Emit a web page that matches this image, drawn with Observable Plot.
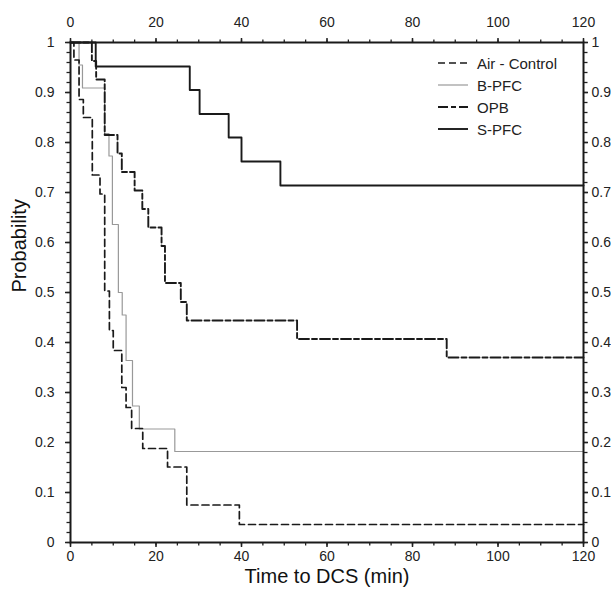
<!DOCTYPE html>
<html>
<head>
<meta charset="utf-8">
<script src="https://cdn.jsdelivr.net/npm/d3@7"></script>
<script src="https://cdn.jsdelivr.net/npm/@observablehq/plot@0.6"></script>
<style>
  html, body { margin: 0; padding: 0; background: #fff; overflow: hidden; }
  #wrap { position: relative; width: 611px; height: 592px; font-family: "Liberation Sans", Arial, sans-serif; }
  #legend { position: absolute; left: 438px; top: 52px; font-size: 15px; color: #222; }
  #legend .row { display: flex; align-items: center; height: 22px; }
  #legend svg { width: 30px; height: 10px; margin-right: 9px; }
</style>
</head>
<body>
<div id="wrap"></div>
<script>
// Kaplan–Meier step data (time in min, survival probability)
const airTimes  = [0, 0.8, 2.0, 3.0, 5.1, 6.9, 8.0, 9.1, 10.0, 12.0, 13.0, 14.3, 16.9, 22.7, 27.2, 39.5, 120];
const airProb   = [1, 0.965, 0.886, 0.85, 0.735, 0.697, 0.503, 0.424, 0.384, 0.31, 0.27, 0.228, 0.188, 0.151, 0.075, 0.036, 0.036];

const bpfcTimes = [0, 2.0, 2.8, 8.0, 9.0, 9.8, 11.2, 12.1, 13.0, 14.5, 16.1, 24.4, 120];
const bpfcProb  = [1, 0.955, 0.909, 0.818, 0.773, 0.636, 0.5, 0.455, 0.364, 0.273, 0.227, 0.182, 0.182];

const opbTimes  = [0, 5.0, 6.0, 8.0, 11.0, 12.0, 15.0, 16.8, 18.2, 21.3, 22.1, 25.8, 27.2, 53.0, 88.0, 120];
const opbProb   = [1, 0.963, 0.926, 0.815, 0.778, 0.741, 0.704, 0.667, 0.630, 0.593, 0.519, 0.481, 0.444, 0.407, 0.370, 0.370];

const spfcTimes = [0, 5.9, 27.9, 30.2, 37.0, 40.0, 49.1, 120];
const spfcProb  = [1, 0.952, 0.905, 0.857, 0.810, 0.762, 0.714, 0.714];

const seriesNames = ["Air - Control", "B-PFC", "OPB", "S-PFC"];
const xMajorTicks = [0, 20, 40, 60, 80, 100, 120];
const yMajorTicks = [0, 0.1, 0.2, 0.3, 0.4, 0.5, 0.6, 0.7, 0.8, 0.9, 1];
const xLabel = "Time to DCS (min)";
const yLabel = "Probability";

const toRows = (ts, ps, name) => ts.map((t, i) => ({t, p: ps[i], name}));
const air  = toRows(airTimes, airProb, seriesNames[0]);
const bpfc = toRows(bpfcTimes, bpfcProb, seriesNames[1]);
const opb  = toRows(opbTimes, opbProb, seriesNames[2]);
const spfc = toRows(spfcTimes, spfcProb, seriesNames[3]);

const styles = {
  "Air - Control": {stroke: "#1a1a1a", strokeWidth: 1.7, strokeDasharray: "7,4"},
  "B-PFC": {stroke: "#999999", strokeWidth: 1.2, strokeDasharray: null},
  "OPB": {stroke: "#1a1a1a", strokeWidth: 1.9, strokeDasharray: "10,3,5,3"},
  "S-PFC": {stroke: "#1a1a1a", strokeWidth: 1.9, strokeDasharray: null}
};

const xMinor = d3.range(0, 121, 5);
const yMinor = d3.range(0, 51).map(i => +(i * 0.02).toFixed(2));
const fmtY = d => String(+d.toFixed(1));
const font = "Liberation Sans, Arial, sans-serif";

function lineMark(rows, name) {
  const s = styles[name];
  const opts = {x: "t", y: "p", curve: "step-after", stroke: s.stroke, strokeWidth: s.strokeWidth};
  if (s.strokeDasharray) opts.strokeDasharray = s.strokeDasharray;
  return Plot.line(rows, opts);
}

const chart = Plot.plot({
  width: 611,
  height: 592,
  marginLeft: 70,
  marginRight: 28,
  marginTop: 42,
  marginBottom: 50,
  style: {fontFamily: font, fontSize: "14px", color: "#222", background: "#fff", overflow: "visible"},
  x: {domain: [0, 120], label: null},
  y: {domain: [0, 1], label: null},
  marks: [
    lineMark(bpfc, "B-PFC"),
    lineMark(air, "Air - Control"),
    lineMark(opb, "OPB"),
    lineMark(spfc, "S-PFC"),
    // bottom axis
    Plot.axisX({anchor: "bottom", ticks: xMinor, tickSize: 3.5, tickFormat: () => "", label: null, strokeWidth: 1.3}),
    Plot.axisX({anchor: "bottom", ticks: xMajorTicks, tickSize: 5, tickPadding: 4, label: null, fontSize: 14, strokeWidth: 1.5}),
    // top axis
    Plot.axisX({anchor: "top", ticks: xMinor, tickSize: 3.5, tickFormat: () => "", label: null, strokeWidth: 1.3}),
    Plot.axisX({anchor: "top", ticks: xMajorTicks, tickSize: 5, tickPadding: 11, label: null, fontSize: 14, strokeWidth: 1.5}),
    // left axis
    Plot.axisY({anchor: "left", ticks: yMinor, tickSize: 3.5, tickFormat: () => "", label: null, strokeWidth: 1.3}),
    Plot.axisY({anchor: "left", ticks: yMajorTicks, tickSize: 5, tickPadding: 11, tickFormat: fmtY, label: null, fontSize: 14, strokeWidth: 1.5}),
    // right axis
    Plot.axisY({anchor: "right", ticks: yMinor, tickSize: 3.5, tickFormat: () => "", label: null, strokeWidth: 1.3}),
    Plot.axisY({anchor: "right", ticks: yMajorTicks, tickSize: 4, tickPadding: 4, tickFormat: fmtY, label: null, fontSize: 14, strokeWidth: 1.5}),
    Plot.frame({stroke: "#1a1a1a", strokeWidth: 2}),
    Plot.text([xLabel], {frameAnchor: "bottom", dy: 40, fontSize: 20, fill: "#111"}),
    Plot.text([yLabel], {frameAnchor: "left", dx: -51, rotate: -90, fontSize: 20, fill: "#111"})
  ]
});

const wrap = document.getElementById("wrap");
wrap.appendChild(chart);

// legend (inside the plot area, top right)
const legend = document.createElement("div");
legend.id = "legend";
for (const name of seriesNames) {
  const s = styles[name];
  const row = document.createElement("div");
  row.className = "row";
  row.innerHTML = `<svg viewBox="0 0 30 10"><line x1="0" x2="30" y1="5" y2="5" stroke="${s.stroke}" stroke-width="${s.strokeWidth}" ${s.strokeDasharray ? `stroke-dasharray="${s.strokeDasharray}"` : ""}/></svg><span>${name}</span>`;
  legend.appendChild(row);
}
wrap.appendChild(legend);
</script>
</body>
</html>
